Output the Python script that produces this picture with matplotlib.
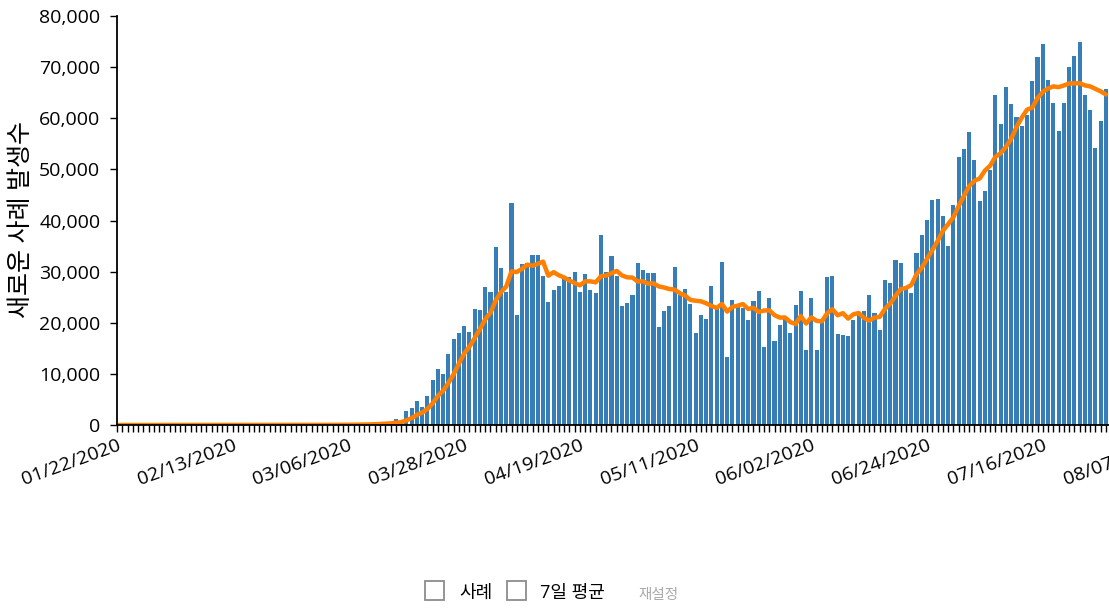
import matplotlib
matplotlib.use("Agg")
import matplotlib.pyplot as plt
import matplotlib.ticker as ticker
import matplotlib.transforms as mtransforms
from matplotlib.patches import Rectangle
import numpy as np
import pandas as pd

# daily new cases, 01/22/2020 onwards
start_date = "2020-01-22"
end_date = "2020-08-07"
cases = [
    0, 0, 0, 0, 0, 0, 0, 0, 0, 0,
    0, 0, 0, 0, 0, 0, 0, 0, 0, 0,
    0, 0, 0, 0, 0, 0, 0, 0, 0, 0,
    0, 0, 0, 10, 10, 20, 10, 20, 30,
    20, 30, 30, 50, 60, 80, 110, 120, 170, 210, 280, 360, 450, 600,
    1100, 800,
    2800, 3300, 4750, 3500, 5670, 8800, 10950, 9980, 13900, 16800,
    18000, 19400, 18200, 22700, 22500, 27000, 26000, 34800, 30700, 26000,
    43400, 21500, 31500, 31700, 33250, 33250, 29150, 24050, 26400, 27200,
    28750, 28950, 29900, 26000, 29500, 26400, 25800, 37150, 29900, 33050,
    29150, 23300, 23850, 25400,
    31700, 30300, 29700, 29700, 19150, 22300, 23300, 30900, 25400, 26600,
    23650, 18000, 21500, 20700, 27200, 22700, 31900, 13300, 24450, 23100,
    22900, 20550, 24250,
    26200, 15250, 24850, 16400, 19550, 20700, 18000, 23450, 26200, 14650,
    24850, 14650, 20150, 28950, 29150, 17800, 17600, 17400, 20550, 21900,
    22300, 25400, 21900,
    18600, 28350, 27800, 32250,
    31770, 27000, 25800, 33550, 37130, 40100, 44070, 44270, 40880, 34930,
    43070, 52400, 53990, 57370, 51800, 43870, 45850, 49820, 64510, 58960,
    66090, 62710, 60150, 58540, 60730, 67290, 72040, 74620, 67480, 62920,
    57560, 62920, 70060, 72230, 74820, 64510, 61530, 54180, 59540, 65700,
]
tick_step = 22
y_ticks = [0, 10000, 20000, 30000, 40000, 50000, 60000, 70000, 80000]
y_label = "새로운 사례 발생수"
legend_labels = ["사례", "7일 평균"]
reset_label = "재설정"

BAR_COLOR = "#377eb8"
LINE_COLOR = "#ff7f00"

plt.rcParams["font.family"] = ["Open Sans", "Noto Sans CJK KR", "DejaVu Sans"]

dates = pd.date_range(start_date, end_date, freq="D")
x = np.arange(len(cases))
avg = pd.Series(cases).rolling(7, min_periods=1).mean()

W, H = 1109, 609
fig = plt.figure(figsize=(W / 100, H / 100), dpi=100)
# plot area runs past the right edge of the picture, like the cropped original
ax = fig.add_axes([117 / W, 184 / H, 1041.5 / W, 409 / H])

ax.bar(x, cases, width=0.78, color=BAR_COLOR, linewidth=0)
ax.plot(x, avg, color=LINE_COLOR, lw=3.2, solid_capstyle="round", solid_joinstyle="round")

ax.set_xlim(0, len(dates) - 1)
ax.set_ylim(0, 80000)

major = list(range(0, len(dates), tick_step))
ax.xaxis.set_major_locator(ticker.FixedLocator(major))
ax.xaxis.set_minor_locator(ticker.MultipleLocator(1))
ax.set_xticklabels([dates[i].strftime("%m/%d/%Y") for i in major],
                   rotation=20, ha="right", rotation_mode="anchor", fontsize=14)
shift = mtransforms.ScaledTranslation(-4 / 100, 0, fig.dpi_scale_trans)
for lbl in ax.get_xticklabels():
    lbl.set_transform(lbl.get_transform() + shift)

ax.yaxis.set_major_locator(ticker.FixedLocator(y_ticks))
ax.yaxis.set_major_formatter(ticker.FuncFormatter(lambda v, _: f"{int(v):,}"))
ax.tick_params(axis="y", labelsize=14, length=5, width=1, pad=7, colors="black")
ax.tick_params(axis="x", which="both", length=5, width=1, pad=3)

for side in ("top", "right"):
    ax.spines[side].set_visible(False)
for side in ("left", "bottom"):
    ax.spines[side].set_linewidth(1.3)

fig.text(22 / W, 1 - 220 / H, y_label, rotation=90, ha="center", va="center", fontsize=18)

# checkbox legend under the chart
for bx in (425, 507):
    fig.patches.append(Rectangle((bx / W, 1 - 600 / H), 19 / W, 19 / H,
                                 transform=fig.transFigure, fill=False,
                                 edgecolor="#8c8c8c", linewidth=1.3))
fig.text(459 / W, 1 - 593 / H, legend_labels[0], ha="left", va="center", fontsize=13)
fig.text(540 / W, 1 - 593 / H, legend_labels[1], ha="left", va="center", fontsize=13)
fig.text(638 / W, 1 - 595 / H, reset_label, ha="left", va="center", fontsize=10.5, color="#aaaaaa")

fig.savefig("out.png", dpi=100)
